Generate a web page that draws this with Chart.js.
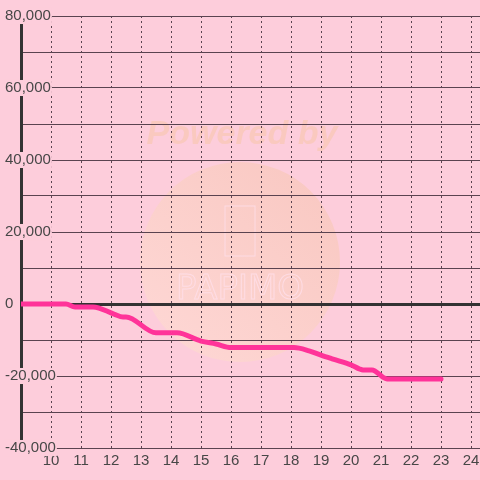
<!DOCTYPE html>
<html>
<head>
<meta charset="utf-8">
<script src="https://cdn.jsdelivr.net/npm/chart.js@4"></script>
<style>
  html, body { margin: 0; padding: 0; background: #fdcddb; }
  #wrap { width: 480px; height: 480px; }
</style>
</head>
<body>
<div id="wrap"><canvas id="graph"></canvas></div>
<script>
// hour of day / difference in medals
const hours = [9, 10.5, 10.8, 11.4, 12.1, 12.4, 12.5, 13.5, 14.2, 15.0, 15.5, 16.0, 18.1, 18.6, 19.0, 19.4, 20.0, 20.4, 20.7, 21.2, 23.0];
const diff = [0, 0, -800, -800, -2800, -3600, -3600, -8000, -8000, -10300, -11100, -12100, -12100, -13000, -14200, -15300, -16900, -18300, -18300, -20800, -20800];

const yMin = -40000, yMax = 80000, yStep = 10000, yLabelStep = 20000;
const xMin = 9, xMax = 24.3, xFirstLabel = 10;

const bg = '#fdcddb';
const gridColor = '#5a4350';
const textColor = '#474747';
const font = { family: "'Liberation Sans', Arial, sans-serif", size: 15, lineHeight: 1.07 };

// background + faint watermark behind the grid
const backdrop = {
    id: 'backdrop',
    beforeDraw(chart) {
        const c = chart.ctx;
        c.save();
        c.fillStyle = bg;
        c.fillRect(0, 0, chart.width, chart.height);

        const g = c.createLinearGradient(150, 360, 330, 170);
        g.addColorStop(0, 'rgba(255, 224, 208, 0.55)');
        g.addColorStop(1, 'rgba(246, 196, 176, 0.6)');
        c.fillStyle = g;
        c.beginPath();
        c.arc(240, 262, 100, 0, Math.PI * 2);
        c.fill();

        c.font = "italic bold 34px 'Liberation Sans', Arial, sans-serif";
        c.textAlign = 'center';
        c.textBaseline = 'middle';
        c.fillStyle = 'rgba(248, 200, 180, 0.7)';
        c.fillText('Powered by', 242, 135);

        c.strokeStyle = 'rgba(255, 222, 234, 0.8)';
        c.lineWidth = 1;
        c.strokeRect(225, 206, 30, 50);
        c.font = "34px 'DejaVu Sans', sans-serif";
        c.strokeText('PAPIMO', 240, 290);
        c.restore();
    }
};

const ctx = document.getElementById('graph').getContext('2d');

new Chart(ctx, {
    type: 'line',
    data: {
        datasets: [{
            data: hours.map((h, i) => ({ x: h, y: diff[i] })),
            borderColor: '#ff3399',
            borderWidth: 5,
            borderJoinStyle: 'round',
            borderCapStyle: 'round',
            pointRadius: 0,
            cubicInterpolationMode: 'monotone',
            fill: false
        }]
    },
    options: {
        responsive: true,
        maintainAspectRatio: false,
        animation: false,
        layout: { padding: { top: 16, right: 0, left: 0, bottom: 0 } },
        plugins: {
            legend: { display: false },
            tooltip: { enabled: false }
        },
        scales: {
            x: {
                type: 'linear',
                min: xMin,
                max: xMax,
                afterFit: s => { s.height = 32; s.paddingLeft = 0; s.paddingRight = 0; },
                afterBuildTicks: s => { s.ticks = s.ticks.filter(t => Number.isInteger(t.value)); },
                grid: { color: gridColor, lineWidth: 1, drawTicks: false },
                border: { display: false, dash: [2, 3] },
                ticks: {
                    stepSize: 1,
                    includeBounds: false,
                    autoSkip: false,
                    maxRotation: 0,
                    padding: 5,
                    color: textColor,
                    font: font,
                    callback: v => v >= xFirstLabel ? String(v) : ''
                }
            },
            y: {
                min: yMin,
                max: yMax,
                afterFit: s => { s.width = 21; },
                grid: {
                    color: c => c.tick && c.tick.value === 0 ? '#333333' : gridColor,
                    lineWidth: c => c.tick && c.tick.value === 0 ? 3 : 1,
                    drawTicks: false
                },
                border: { display: true, color: '#333333', width: 3 },
                ticks: {
                    stepSize: yStep,
                    mirror: true,
                    padding: -16,
                    z: 1,
                    color: textColor,
                    font: font,
                    showLabelBackdrop: true,
                    backdropColor: bg,
                    backdropPadding: { left: 1, right: 1, top: 0, bottom: 0 },
                    callback: v => v % yLabelStep === 0 ? v.toLocaleString('en-US') : ''
                }
            }
        }
    },
    plugins: [backdrop]
});
</script>
</body>
</html>
